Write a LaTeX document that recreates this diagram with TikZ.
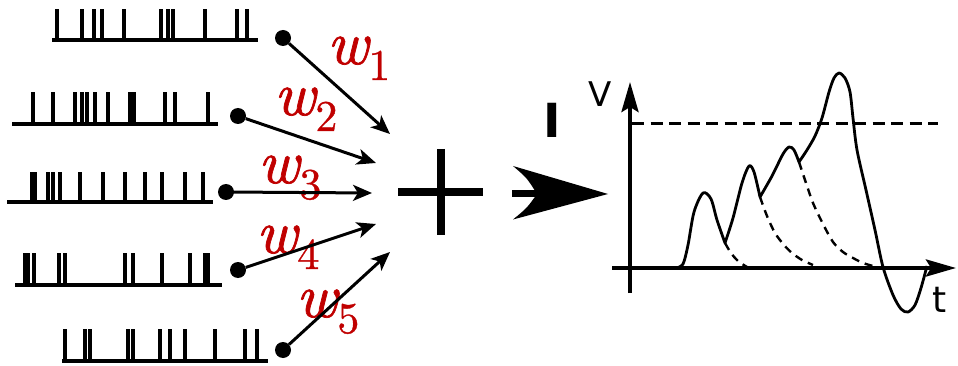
\documentclass[tikz,border=0pt]{standalone}
\usepackage{fontspec}
\newfontfamily\djv{DejaVu Sans}
\newfontface\wfont{lmroman10-italic.otf}[FakeBold=1.2]
\newfontface\dfont{lmroman10-regular.otf}[FakeBold=0.8]
\usetikzlibrary{arrows.meta}
\definecolor{wred}{RGB}{192,0,0}
\newcommand\wlabel[1]{{\wfont\fontsize{62}{72}\selectfont w}\raisebox{-16pt}{\dfont\fontsize{44}{50}\selectfont #1}}
\begin{document}
\begin{tikzpicture}[x=1pt,y=-1pt]
\tikzset{
  spk/.style={line width=3.2pt},
  dot/.style={circle, fill=black, inner sep=0pt, minimum size=16pt},
  warr/.style={line width=3pt, -{Stealth[length=19pt,width=16pt,inset=5pt]}},
  wlab/.style={text=wred, inner sep=0pt, anchor=base west},
  axis/.style={line width=4pt, -{Stealth[length=30pt,width=17pt,inset=5pt]}},
  vcurve/.style={line width=2.8pt, line join=round},
  decay/.style={line width=2.4pt, dash pattern=on 8pt off 6pt},
  thr/.style={line width=3pt, dash pattern=on 12pt off 6.5pt},
}
\useasboundingbox (0,0) rectangle (958,366);

% spike trains
\draw[spk] (52,40) -- (258,40) foreach \s in {57,82,94,102,124,161,168,173,205,237,247} {(\s,40) -- (\s,9)};
\draw[spk] (12,124) -- (218,124) foreach \s in {33,53,75,82,87,95,108,130,134,165,175,208} {(\s,124) -- (\s,92)};
\draw[spk] (7,202) -- (213,202) foreach \s in {32,35,48,53,60,80,103,125,145,162,185,203} {(\s,202) -- (\s,172)};
\draw[spk] (15,285) -- (222,285) foreach \s in {25,28,34,59,65,125,133,162,190,205,208} {(\s,285) -- (\s,253)};
\draw[spk] (62,361) -- (268,361) foreach \s in {65,85,90,128,133,160,170,185,215,245,257} {(\s,361) -- (\s,329)};

% weight labels
\node[wlab] (w1) at (327,64) {\wlabel{1}};
\node[wlab] (w2) at (274,115) {\wlabel{2}};
\node[wlab] (w3) at (258,183) {\wlabel{3}};
\node[wlab] (w4) at (256,253) {\wlabel{4}};
\node[wlab] (w5) at (296,317) {\wlabel{5}};

% dots and arrows
\node[dot] (d1) at (283,38) {};
\node[dot] (d2) at (238,116) {};
\node[dot] (d3) at (226,192) {};
\node[dot] (d4) at (238,270) {};
\node[dot] (d5) at (283,350) {};
\coordinate (e1) at (390,134);
\coordinate (e2) at (376,163);
\coordinate (e3) at (372,193);
\coordinate (e4) at (376,224);
\coordinate (e5) at (390,252);
\draw[warr] (d1) -- (e1);
\draw[warr] (d2) -- (e2);
\draw[warr] (d3.center) -- (e3);
\draw[warr] (d4) -- (e4);
\draw[warr] (d5) -- (e5);

% plus
\draw[line width=8pt] (398,192.5) -- (483,192.5) (441,149) -- (441,235);

% big arrow
\coordinate (bt) at (608,194);
\draw[line width=7pt] (512,194) -- (540,194);
\fill (bt) -- (513,166) .. controls (527,178) .. (537,194) .. controls (527,208) .. (513,219.5) -- cycle;
\node[font=\djv\bfseries\fontsize{47}{50}\selectfont, inner sep=0pt] (I) at (552,120) {I};

% axes
\coordinate (vb) at (630,293);
\coordinate (vt) at (630,82);
\coordinate (hl) at (612,268);
\coordinate (hr) at (956,268);
\draw[axis] (vb) -- (vt);
\draw[axis] (hl) -- (hr);
\node[font=\djv\fontsize{34}{40}\selectfont, inner sep=0pt] (V) at (600,94.5) {V};
\node[font=\djv\fontsize{36}{40}\selectfont, inner sep=0pt] (t) at (939.5,300) {t};

% threshold
\coordinate (th1) at (632,124);
\coordinate (th2) at (938,124);
\draw[thr] (th1) -- (th2);

% membrane potential
\draw[vcurve] (630,268) -- (676,268)
  plot[smooth,tension=0.5] coordinates {(676,268) (683,264) (688,245) (694,212) (703,193) (711,199) (717,220) (725,243)}
  -- plot[smooth,tension=0.5] coordinates {(725,243) (733,218) (742,183) (749,166) (754,172) (760,197)}
  -- plot[smooth,tension=0.5] coordinates {(760,197) (772,176) (783,154) (789,147) (794,150) (799,162)}
  -- plot[smooth,tension=0.5] coordinates {(799,162) (807,150) (815,136) (822,118) (829,92) (834,78) (839,73) (845,78) (850,92) (853,118) (857,150) (866,190) (875,230) (883,267) (893,295) (901,309) (908,312) (915,305) (921,288) (927,266)};

% decays
\draw[decay] plot[smooth,tension=0.5] coordinates {(725,243) (731,253) (738,261) (747,267)};
\draw[decay] plot[smooth,tension=0.5] coordinates {(760,197) (767,216) (775,233) (784,245) (792,253) (802,260) (813,265)};
\draw[decay] plot[smooth,tension=0.5] coordinates {(799,162) (806,183) (813,203) (823,224) (833,242) (843,252) (853,258) (863,263) (873,266)};
\end{tikzpicture}
\end{document}
